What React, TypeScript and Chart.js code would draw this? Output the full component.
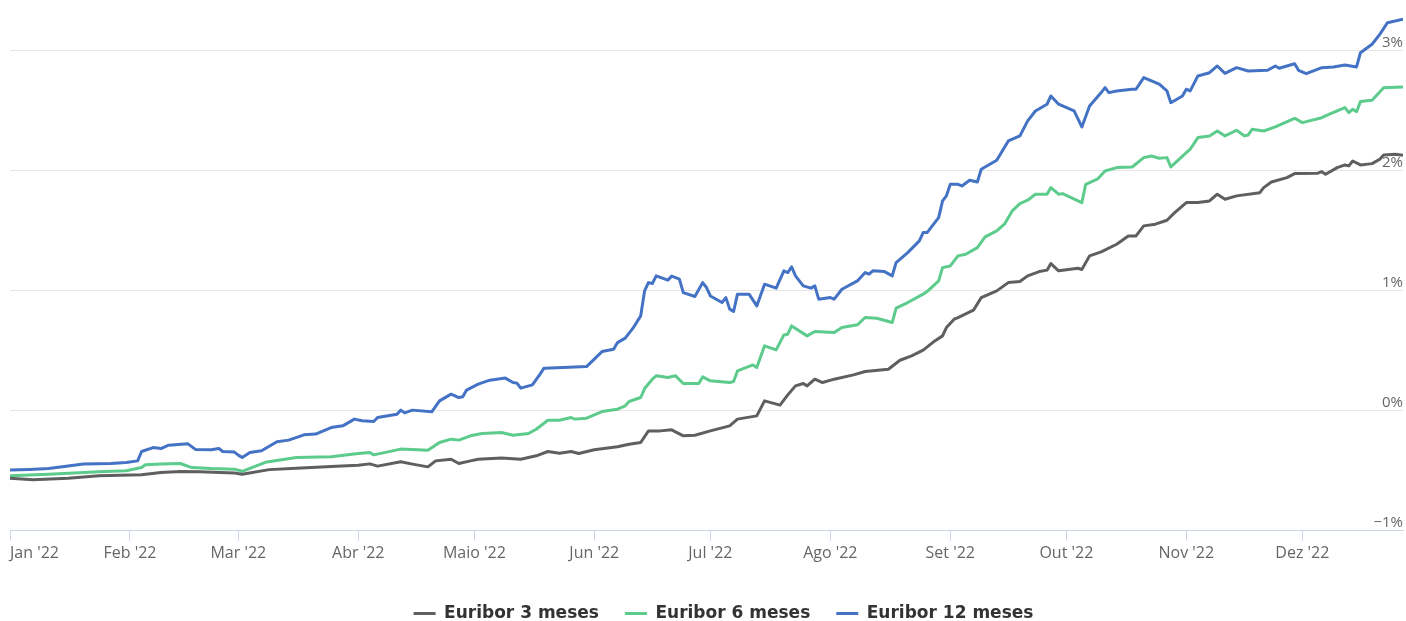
import React, { useEffect, useRef } from 'react';
import { Chart, registerables } from 'chart.js';

Chart.register(...registerables);

// Day-of-year (0 = 1 Jan 2022) of each month start, and their labels
const monthStarts = [0, 31, 59, 90, 120, 151, 181, 212, 243, 273, 304, 334];
const monthLabels = ["Jan '22", "Feb '22", "Mar '22", "Abr '22", "Maio '22", "Jun '22", "Jul '22", "Ago '22", "Set '22", "Out '22", "Nov '22", "Dez '22"];
const lastDay = 360;
const yTicks = [-1, 0, 1, 2, 3];
const seriesNames = ['Euribor 3 meses', 'Euribor 6 meses', 'Euribor 12 meses'];
const seriesColors = ['#5f5f5f', '#5ccb8b', '#4472c4'];

// Euribor 3 meses
const euribor3Days = [0, 6, 15, 23, 34, 39, 44, 49, 58, 60, 67, 74, 83, 90, 93, 95, 101, 104, 108, 110, 114, 116, 119, 121, 127, 132, 136, 139, 142, 145, 147, 151, 157, 160, 163, 165, 168, 171, 174, 177, 181, 186, 188, 193, 195, 199, 201, 203, 205, 206, 208, 210, 213, 218, 221, 227, 230, 233, 236, 239, 241, 242, 244, 245, 249, 251, 255, 258, 261, 263, 266, 268, 269, 271, 276, 277, 279, 282, 286, 289, 291, 293, 296, 299, 301, 304, 307, 310, 312, 314, 317, 323, 324, 326, 330, 332, 338, 339, 340, 343, 345, 346, 347, 349, 352, 354, 355, 358, 360];
const euribor3Values = [-0.561, -0.575, -0.561, -0.542, -0.533, -0.514, -0.506, -0.508, -0.519, -0.528, -0.49, -0.478, -0.463, -0.453, -0.442, -0.461, -0.425, -0.444, -0.467, -0.417, -0.403, -0.439, -0.417, -0.403, -0.394, -0.403, -0.375, -0.339, -0.353, -0.339, -0.356, -0.325, -0.3, -0.278, -0.264, -0.167, -0.167, -0.158, -0.208, -0.203, -0.167, -0.125, -0.069, -0.042, 0.083, 0.048, 0.133, 0.208, 0.228, 0.208, 0.264, 0.236, 0.264, 0.3, 0.328, 0.347, 0.422, 0.458, 0.506, 0.583, 0.625, 0.694, 0.764, 0.778, 0.839, 0.944, 1.0, 1.069, 1.078, 1.125, 1.161, 1.173, 1.228, 1.167, 1.189, 1.178, 1.292, 1.325, 1.389, 1.458, 1.458, 1.542, 1.556, 1.589, 1.653, 1.736, 1.736, 1.75, 1.806, 1.764, 1.792, 1.819, 1.861, 1.908, 1.944, 1.978, 1.981, 1.994, 1.972, 2.028, 2.05, 2.042, 2.083, 2.05, 2.061, 2.097, 2.133, 2.139, 2.131];

// Euribor 6 meses
const euribor6Days = [0, 10, 23, 30, 34, 35, 39, 44, 47, 52, 58, 60, 66, 74, 83, 90, 93, 94, 101, 108, 111, 114, 116, 119, 122, 127, 130, 134, 136, 139, 142, 145, 146, 149, 153, 157, 159, 160, 163, 164, 166, 167, 170, 172, 174, 178, 179, 181, 186, 187, 188, 192, 193, 195, 198, 200, 201, 202, 206, 208, 213, 215, 219, 221, 224, 228, 229, 232, 236, 237, 240, 241, 243, 245, 247, 250, 252, 255, 257, 259, 261, 263, 265, 268, 269, 271, 272, 277, 278, 281, 283, 286, 290, 293, 295, 297, 299, 300, 305, 307, 310, 312, 314, 317, 319, 320, 321, 324, 327, 332, 334, 339, 341, 345, 346, 347, 348, 349, 352, 355, 360];
const euribor6Values = [-0.542, -0.528, -0.508, -0.5, -0.473, -0.45, -0.444, -0.439, -0.473, -0.481, -0.486, -0.504, -0.429, -0.389, -0.383, -0.356, -0.347, -0.367, -0.319, -0.328, -0.264, -0.236, -0.244, -0.208, -0.189, -0.181, -0.203, -0.189, -0.153, -0.078, -0.078, -0.056, -0.069, -0.061, -0.006, 0.014, 0.042, 0.078, 0.111, 0.186, 0.264, 0.292, 0.278, 0.292, 0.228, 0.228, 0.283, 0.25, 0.236, 0.244, 0.333, 0.383, 0.361, 0.542, 0.508, 0.633, 0.639, 0.708, 0.625, 0.661, 0.653, 0.694, 0.717, 0.778, 0.772, 0.736, 0.856, 0.903, 0.973, 0.994, 1.083, 1.194, 1.208, 1.292, 1.306, 1.361, 1.45, 1.5, 1.556, 1.667, 1.728, 1.756, 1.806, 1.806, 1.861, 1.806, 1.811, 1.736, 1.889, 1.931, 2.0, 2.028, 2.033, 2.111, 2.125, 2.106, 2.111, 2.033, 2.181, 2.278, 2.292, 2.333, 2.292, 2.339, 2.292, 2.3, 2.347, 2.333, 2.367, 2.439, 2.403, 2.444, 2.473, 2.528, 2.486, 2.514, 2.494, 2.578, 2.589, 2.694, 2.7];

// Euribor 12 meses
const euribor12Days = [0, 5, 10, 19, 26, 30, 33, 34, 37, 39, 41, 46, 48, 52, 54, 55, 58, 59, 60, 62, 65, 69, 72, 76, 79, 83, 86, 89, 91, 94, 95, 100, 101, 102, 104, 109, 111, 114, 116, 117, 118, 121, 124, 128, 130, 131, 132, 135, 137, 138, 143, 149, 151, 153, 156, 157, 159, 161, 163, 164, 165, 166, 167, 170, 171, 173, 174, 177, 179, 180, 181, 184, 185, 186, 187, 188, 191, 193, 195, 198, 200, 201, 202, 203, 205, 207, 208, 209, 212, 213, 215, 219, 221, 222, 223, 226, 228, 229, 232, 235, 236, 237, 240, 241, 242, 243, 245, 246, 248, 250, 251, 255, 258, 261, 263, 265, 268, 269, 271, 275, 277, 279, 282, 283, 284, 286, 290, 291, 293, 297, 299, 300, 303, 304, 305, 307, 310, 312, 314, 317, 320, 325, 327, 328, 332, 333, 335, 339, 342, 345, 348, 349, 352, 354, 356, 360];
const euribor12Values = [-0.494, -0.488, -0.481, -0.444, -0.438, -0.431, -0.417, -0.339, -0.306, -0.314, -0.286, -0.275, -0.323, -0.325, -0.314, -0.339, -0.344, -0.369, -0.389, -0.348, -0.333, -0.258, -0.244, -0.2, -0.194, -0.139, -0.125, -0.069, -0.083, -0.089, -0.056, -0.028, 0.006, -0.017, 0.006, -0.008, 0.083, 0.139, 0.111, 0.117, 0.173, 0.223, 0.256, 0.273, 0.236, 0.231, 0.189, 0.217, 0.306, 0.356, 0.361, 0.369, 0.431, 0.494, 0.514, 0.569, 0.606, 0.689, 0.792, 1.0, 1.069, 1.061, 1.125, 1.089, 1.123, 1.098, 0.986, 0.953, 1.069, 1.028, 0.958, 0.903, 0.944, 0.848, 0.828, 0.973, 0.973, 0.875, 1.056, 1.023, 1.167, 1.153, 1.2, 1.125, 1.042, 1.023, 1.042, 0.931, 0.944, 0.931, 1.014, 1.083, 1.153, 1.139, 1.167, 1.161, 1.125, 1.236, 1.319, 1.417, 1.486, 1.486, 1.611, 1.75, 1.792, 1.889, 1.889, 1.875, 1.923, 1.908, 2.014, 2.089, 2.25, 2.292, 2.417, 2.5, 2.556, 2.625, 2.556, 2.5, 2.367, 2.542, 2.653, 2.694, 2.653, 2.667, 2.681, 2.681, 2.778, 2.723, 2.667, 2.569, 2.625, 2.681, 2.667, 2.792, 2.819, 2.875, 2.814, 2.861, 2.833, 2.839, 2.875, 2.856, 2.894, 2.839, 2.811, 2.861, 2.867, 2.883, 2.867, 2.986, 3.056, 3.139, 3.236, 3.264];

const FONT = "'Open Sans', 'DejaVu Sans', sans-serif";
const LEGEND_FONT = "'DejaVu Sans', 'Open Sans', sans-serif";

// nudges the centred legend row to the right, as in the reference
const legendShift = {
  id: 'legendShift',
  afterLayout(chart: any) {
    const l = chart.legend;
    if (l) {
      l.left += 16;
      l.right += 16;
    }
  },
};

export default function App() {
  const ref = useRef<HTMLCanvasElement>(null);

  useEffect(() => {
    document.body.style.margin = '0';
    const canvas = ref.current;
    if (!canvas) return;
    const toPoints = (days: number[], vals: number[]) => days.map((d, i) => ({ x: d, y: vals[i] }));
    const allDays = [euribor3Days, euribor6Days, euribor12Days];
    const allVals = [euribor3Values, euribor6Values, euribor12Values];

    const chart = new Chart(canvas, {
      type: 'line',
      data: {
        datasets: seriesNames.map((name, i) => ({
          label: name,
          data: toPoints(allDays[i], allVals[i]),
          borderColor: seriesColors[i],
          backgroundColor: seriesColors[i],
          borderWidth: 3,
          pointRadius: 0,
          pointHoverRadius: 0,
          tension: 0,
          borderJoinStyle: 'round' as const,
          fill: false,
        })),
      },
      plugins: [legendShift],
      options: {
        animation: false,
        responsive: false,
        devicePixelRatio: 1,
        layout: { padding: { left: 10, right: 1, top: 11, bottom: 0 } },
        plugins: {
          tooltip: { enabled: false },
          legend: {
            display: true,
            position: 'bottom',
            labels: {
              usePointStyle: true,
              pointStyle: 'line',
              pointStyleWidth: 22,
              padding: 26,
              color: '#333333',
              font: { family: LEGEND_FONT, size: 17, weight: 'bold' },
            },
          },
        },
        scales: {
          x: {
            type: 'linear',
            min: 0,
            max: lastDay,
            afterBuildTicks: (axis: any) => {
              axis.ticks = [...monthStarts.map((v) => ({ value: v })), { value: lastDay }];
            },
            afterFit: (scale: any) => {
              scale.height += 13;
            },
            grid: {
              drawOnChartArea: false,
              drawTicks: true,
              tickLength: 10,
              color: (ctx: any) => (ctx.tick && ctx.tick.value === lastDay ? 'rgba(0,0,0,0)' : '#ccd6eb'),
            },
            border: { display: true, color: '#ccd6eb', width: 1 },
            ticks: {
              autoSkip: false,
              maxRotation: 0,
              align: 'inner',
              padding: 3,
              color: '#666666',
              font: { family: FONT, size: 16 },
              callback: (_v: any, index: number) => (index < monthLabels.length ? monthLabels[index] : ''),
            },
          },
          y: {
            type: 'linear',
            position: 'right',
            min: -1,
            max: 10 / 3,
            afterBuildTicks: (axis: any) => {
              axis.ticks = yTicks.map((v) => ({ value: v }));
            },
            grid: { color: '#e6e6e6', drawTicks: false, lineWidth: 1 },
            border: { display: false },
            ticks: {
              mirror: true,
              padding: 0,
              labelOffset: -8,
              color: '#666666',
              font: { family: FONT, size: 15 },
              callback: (v: any) => (Number(v) < 0 ? '\u2212' + Math.abs(Number(v)) : String(v)) + '%',
            },
          },
        },
      },
    });
    return () => chart.destroy();
  }, []);

  return (
    <div style={{ width: 1406, height: 621, overflow: 'hidden' }}>
      <canvas ref={ref} width={1406} height={632} style={{ display: 'block' }} />
    </div>
  );
}
